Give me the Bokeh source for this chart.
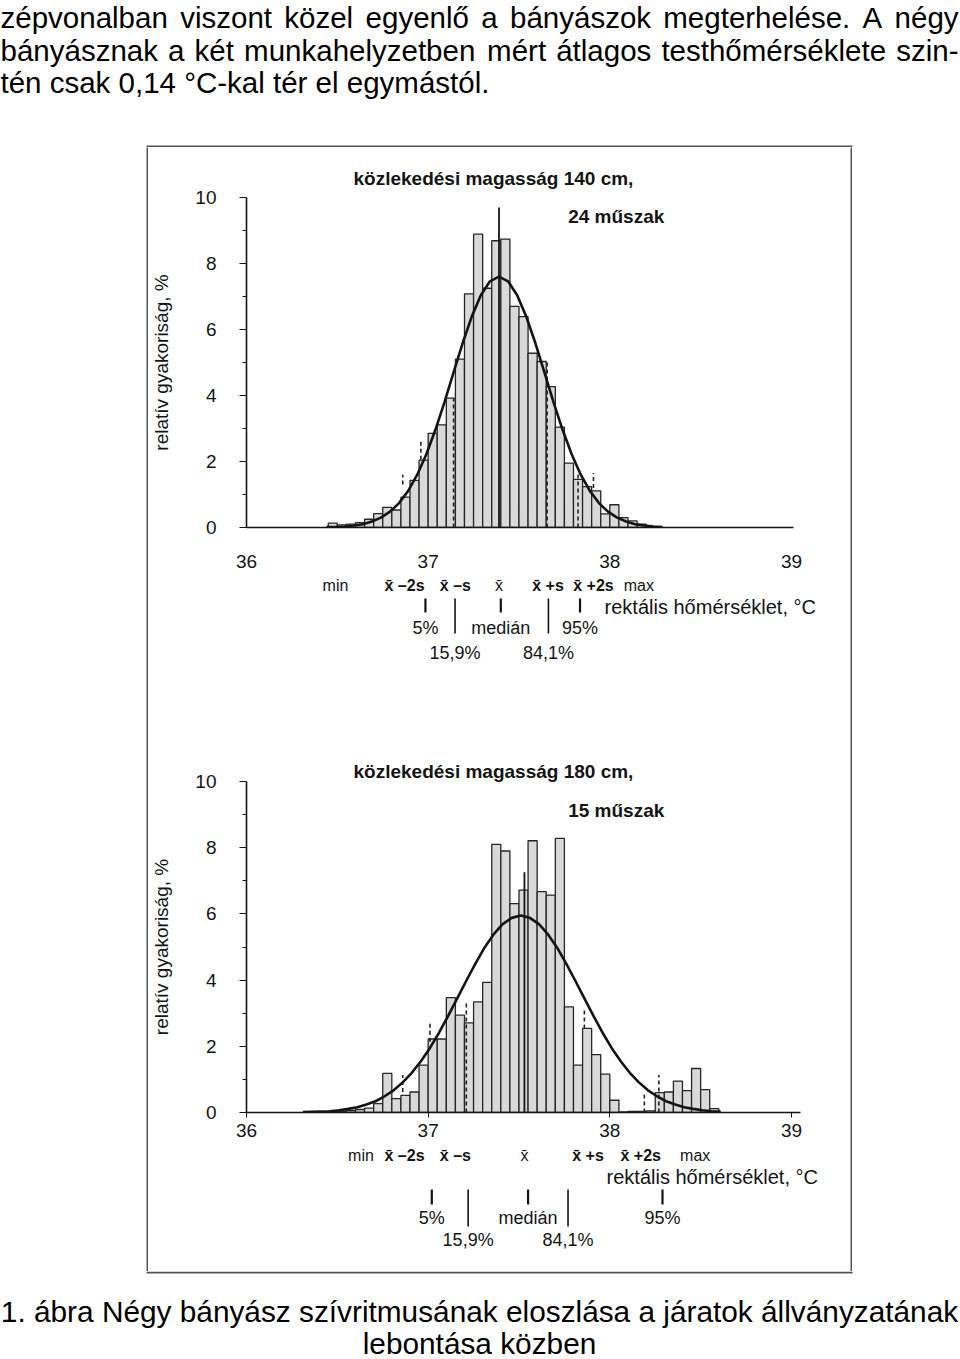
from bokeh.plotting import figure
from bokeh.layouts import column, row
from bokeh.models import Range1d, FixedTicker, Spacer
from bokeh.embed import file_html
from bokeh.resources import INLINE
from bokeh.core.properties import value

FONT = "Liberation Sans"
INK = "#141414"

# ------------------------------------------------------------------ data
x_ticks = [36, 37, 38, 39]
y_ticks = [0, 2, 4, 6, 8, 10]
y_minor = [1, 3, 5, 7, 9]
BIN_W = 0.05

# upper chart: 140 cm, 24 shifts
top_bin_start = [36.45, 36.50, 36.55, 36.60, 36.65, 36.70, 36.75, 36.80, 36.85, 36.90,
                 36.95, 37.00, 37.05, 37.10, 37.15, 37.20, 37.25, 37.30, 37.35, 37.40,
                 37.45, 37.50, 37.55, 37.60, 37.65, 37.70, 37.75, 37.80, 37.85, 37.90,
                 37.95, 38.00, 38.05, 38.10, 38.15]
top_freq = [0.13, 0.08, 0.10, 0.15, 0.25, 0.42, 0.61, 0.53, 0.92, 1.43,
            2.04, 2.85, 3.11, 3.92, 5.10, 7.08, 8.89, 7.25, 8.69, 8.74,
            6.70, 6.39, 5.28, 5.03, 4.27, 3.04, 1.95, 1.46, 1.24, 1.11,
            0.41, 0.69, 0.30, 0.20, 0.10]
top_curve_t = [36.44, 36.49, 36.54, 36.59, 36.64, 36.69, 36.74, 36.79, 36.84, 36.89,
               36.94, 36.99, 37.04, 37.09, 37.14, 37.19, 37.24, 37.29, 37.34, 37.39,
               37.44, 37.49, 37.54, 37.59, 37.64, 37.69, 37.74, 37.79, 37.84, 37.89,
               37.94, 37.99, 38.04, 38.09, 38.14, 38.19, 38.24, 38.29]
top_curve_v = [0.01, 0.01, 0.03, 0.06, 0.10, 0.18, 0.30, 0.48, 0.74, 1.11,
               1.60, 2.22, 2.96, 3.80, 4.70, 5.59, 6.39, 7.04, 7.46, 7.60,
               7.46, 7.04, 6.39, 5.59, 4.70, 3.80, 2.96, 2.22, 1.60, 1.11,
               0.74, 0.48, 0.30, 0.18, 0.10, 0.06, 0.03, 0.01]
top_mean = 37.39
top_mean_height = 9.7
top_marker_t = [36.86, 36.96, 37.14, 37.655, 37.825, 37.91]
top_marker_lo = [1.30, 2.05, 0.00, 0.00, 0.00, 1.20]
top_marker_hi = [1.60, 2.65, 3.90, 5.00, 1.70, 1.65]
top_stat_t = [36.49, 36.87, 37.15, 37.39, 37.66, 37.91, 38.16]
top_pct_t = [36.985, 37.148, 37.40, 37.662, 37.836]

# lower chart: 180 cm, 15 shifts
bot_bin_start = [36.45, 36.50, 36.55, 36.60, 36.65, 36.70, 36.75, 36.80, 36.85, 36.90,
                 36.95, 37.00, 37.05, 37.10, 37.15, 37.20, 37.25, 37.30, 37.35, 37.40,
                 37.45, 37.50, 37.55, 37.60, 37.65, 37.70, 37.75, 37.80, 37.85, 37.90,
                 37.95, 38.00, 38.05, 38.10, 38.15, 38.20, 38.25, 38.30, 38.35, 38.40,
                 38.45, 38.50, 38.55]
bot_freq = [0.03, 0.04, 0.06, 0.09, 0.13, 0.27, 1.18, 0.42, 0.52, 0.62,
            1.43, 2.22, 2.22, 3.47, 2.94, 2.71, 3.34, 3.93, 8.10, 7.90,
            6.31, 6.72, 8.21, 6.67, 6.57, 8.28, 3.19, 1.43, 2.54, 1.75,
            1.16, 0.37, 0.02, 0.03, 0.03, 0.05, 0.60, 0.62, 0.95, 0.66,
            1.33, 0.69, 0.12]
bot_curve_t = [36.31, 36.36, 36.41, 36.46, 36.51, 36.56, 36.61, 36.66, 36.71, 36.76,
               36.81, 36.86, 36.91, 36.96, 37.01, 37.06, 37.11, 37.16, 37.21, 37.26,
               37.31, 37.36, 37.41, 37.46, 37.51, 37.56, 37.61, 37.66, 37.71, 37.76,
               37.81, 37.86, 37.91, 37.96, 38.01, 38.06, 38.11, 38.16, 38.21, 38.26,
               38.31, 38.36, 38.41, 38.46, 38.51, 38.56, 38.61]
bot_curve_v = [0.01, 0.02, 0.03, 0.04, 0.07, 0.11, 0.16, 0.24, 0.34, 0.49,
               0.67, 0.91, 1.20, 1.55, 1.95, 2.41, 2.92, 3.45, 3.98, 4.50,
               4.98, 5.38, 5.69, 5.88, 5.95, 5.88, 5.69, 5.38, 4.98, 4.50,
               3.98, 3.45, 2.92, 2.41, 1.95, 1.55, 1.20, 0.91, 0.67, 0.49,
               0.34, 0.24, 0.16, 0.11, 0.07, 0.04, 0.03]
bot_mean = 37.53
bot_mean_height = 7.26
bot_marker_t = [36.86, 37.01, 37.21, 37.86, 38.19, 38.27]
bot_marker_lo = [0.62, 2.14, 0.00, 2.54, 0.00, 0.00]
bot_marker_hi = [1.13, 2.76, 3.30, 3.10, 0.62, 1.13]
bot_stat_t = [36.63, 36.87, 37.15, 37.53, 37.88, 38.17, 38.47]
bot_pct_t = [37.02, 37.22, 37.55, 37.77, 38.29]

stat_labels = ["min", "x\u0304 \u20132s", "x\u0304 \u2013s", "x\u0304", "x\u0304 +s", "x\u0304 +2s", "max"]
stat_bold = [False, True, True, False, True, True, False]
pct_labels = ["5%", "15,9%", "medi\u00e1n", "84,1%", "95%"]
pct_long = [False, True, False, True, False]

y_title = "relat\u00edv gyakoris\u00e1g, %"
x_title = "rekt\u00e1lis h\u0151m\u00e9rs\u00e9klet, \u00b0C"

header_lines = [
    ["z\u00e9pvonalban", "viszont", "k\u00f6zel", "egyenl\u0151", "a", "b\u00e1ny\u00e1szok",
     "megterhel\u00e9se.", "A", "n\u00e9gy"],
    ["b\u00e1ny\u00e1sznak", "a", "k\u00e9t", "munkahelyzetben", "m\u00e9rt", "\u00e1tlagos",
     "testh\u0151m\u00e9rs\u00e9klete", "szin-"],
    ["t\u00e9n csak 0,14 \u00b0C-kal t\u00e9r el egym\u00e1st\u00f3l."],
]
header_word_x = [
    [0, 179.7, 283.8, 365.1, 480.7, 509.5, 662.8, 862.1, 894.1],
    [0, 167.5, 194.1, 243.6, 486.6, 555.7, 660.9, 895.7],
    [0],
]
header_mid = [17, 49.5, 82]
caption_lines = ["1. \u00e1bra N\u00e9gy b\u00e1ny\u00e1sz sz\u00edvritmus\u00e1nak eloszl\u00e1sa a j\u00e1ratok \u00e1llv\u00e1nyzat\u00e1nak",
                 "lebont\u00e1sa k\u00f6zben"]
caption_mid = [40, 72]

# ------------------------------------------------------------------ layout constants (page pixels)
PAGE_W = 960
PAGE_H = 1359
HDR_H = 147
BOX_OUT_L = 146
BOX_OUT_R = 852
BOX_TOP = 145
INNER_H = 1124
CAP_H = PAGE_H - HDR_H - INNER_H
PPD = 554.0 / 3.0          # pixels per degree
AX_X = 236                 # x pixel of 36 °C / y axis
BOX_L = 148                # inner left edge of the framed box
INNER_W = 702
ML = AX_X - BOX_L
BORDER = "#555555"


def T(px):
    return 36 + (px - AX_X) / PPD


X_END = T(BOX_L + INNER_W)


def bare(w, h, xr, yr, fill="white", ml=0):
    f = figure(width=w, height=h, x_range=xr, y_range=yr, min_border=0, min_border_left=ml,
               x_axis_type=None, y_axis_type=None, toolbar_location=None,
               output_backend="svg", title=None)
    f.outline_line_color = None
    f.background_fill_color = fill
    f.border_fill_color = fill
    return f


def chart(height, mtop, mbot, title, t_standoff, note, note_y, bins, freq, ct, cv,
          mean, mean_h, mk_t, mk_lo, mk_hi, lab_standoff, tick_out, ax_end):
    p = figure(width=INNER_W, height=height, x_range=Range1d(36, X_END), y_range=Range1d(0, 10),
               min_border_left=ML, min_border_right=0, min_border_top=mtop, min_border_bottom=mbot,
               toolbar_location=None, output_backend="svg", title=title)
    p.outline_line_color = None
    p.grid.visible = False
    p.background_fill_color = "white"
    p.border_fill_color = "white"
    t = p.title
    t.align = "left"
    t.offset = 107
    t.standoff = t_standoff
    t.text_font = FONT
    t.text_font_size = "19px"
    t.text_font_style = "bold"
    t.text_color = INK

    p.quad(left=bins, right=[b + BIN_W for b in bins], bottom=0, top=freq,
           fill_color="#d9d9d9", line_color="#262626", line_width=1.3)
    p.segment(x0=mk_t, y0=mk_lo, x1=mk_t, y1=mk_hi, line_color="#222222",
              line_width=1.6, line_dash="4 3")
    p.segment(x0=[mean], y0=[0], x1=[mean], y1=[mean_h], line_color=INK, line_width=1.8)
    p.line(ct, cv, line_color=INK, line_width=2.6)
    p.text(x=[T(563)], y=[note_y], text=[note], text_font=value(FONT), text_font_size="19px",
           text_font_style="bold", text_baseline="middle", text_align="left", text_color=INK)

    xa = p.xaxis[0]
    xa.bounds = (36, ax_end)
    xa.ticker = FixedTicker(ticks=x_ticks)
    xa.major_tick_out = tick_out
    xa.major_tick_in = 0
    xa.minor_tick_out = 0
    xa.minor_tick_in = 0
    xa.major_label_standoff = lab_standoff
    xa.major_label_text_font = FONT
    xa.major_label_text_font_size = "19px"
    xa.major_label_text_color = INK
    xa.axis_line_width = 1.6
    xa.axis_line_color = INK
    xa.major_tick_line_color = INK

    ya = p.yaxis[0]
    ya.ticker = FixedTicker(ticks=y_ticks, minor_ticks=y_minor)
    ya.major_tick_out = 7
    ya.major_tick_in = 0
    ya.minor_tick_out = 4
    ya.minor_tick_in = 0
    ya.major_label_standoff = 23
    ya.major_label_text_font = FONT
    ya.major_label_text_font_size = "19px"
    ya.major_label_text_color = INK
    ya.axis_line_width = 1.6
    ya.axis_line_color = INK
    ya.major_tick_line_color = INK
    ya.minor_tick_line_color = INK
    ya.axis_label = y_title
    ya.axis_label_standoff = 20
    ya.axis_label_text_font = FONT
    ya.axis_label_text_font_size = "19px"
    ya.axis_label_text_font_style = "normal"
    ya.axis_label_text_color = INK
    return p


def label_fig(top_px, height, stat_t, row1_y, rekt_px, rekt_y, pct_t, tick_y0, small_y1,
              big_y1, row2_y, row3_y):
    f = bare(INNER_W, height, Range1d(36, X_END), Range1d(top_px + height, top_px), ml=ML)
    for bold in (False, True):
        xs = [x for x, b in zip(stat_t, stat_bold) if b == bold]
        ts = [s for s, b in zip(stat_labels, stat_bold) if b == bold]
        f.text(x=xs, y=[row1_y] * len(xs), text=ts, text_font=value(FONT), text_font_size="16px",
               text_font_style="bold" if bold else "normal", text_align="center",
               text_baseline="middle", text_color=INK)
    f.text(x=[T(rekt_px)], y=[rekt_y], text=[x_title], text_font=value(FONT), text_font_size="20px",
           text_align="left", text_baseline="middle", text_color=INK)
    sx = [x for x, l in zip(pct_t, pct_long) if not l]
    lx = [x for x, l in zip(pct_t, pct_long) if l]
    f.segment(x0=sx, y0=[tick_y0] * len(sx), x1=sx, y1=[small_y1] * len(sx),
              line_color=INK, line_width=2.2)
    f.segment(x0=lx, y0=[tick_y0] * len(lx), x1=lx, y1=[big_y1] * len(lx),
              line_color=INK, line_width=1.6)
    r2x = [x for x, l in zip(pct_t, pct_long) if not l]
    r2t = [s for s, l in zip(pct_labels, pct_long) if not l]
    r3x = [x for x, l in zip(pct_t, pct_long) if l]
    r3t = [s for s, l in zip(pct_labels, pct_long) if l]
    f.text(x=r2x, y=[row2_y] * len(r2x), text=r2t, text_font=value(FONT), text_font_size="18px",
           text_align="center", text_baseline="middle", text_color=INK)
    f.text(x=r3x, y=[row3_y] * len(r3x), text=r3t, text_font=value(FONT), text_font_size="18px",
           text_align="center", text_baseline="middle", text_color=INK)
    return f


# ------------------------------------------------------------------ build
hdr = bare(PAGE_W, HDR_H, Range1d(0, PAGE_W), Range1d(HDR_H, 0))
for words, xs, ym in zip(header_lines, header_word_x, header_mid):
    hdr.text(x=xs, y=[ym] * len(xs), text=words, text_font=value(FONT), text_font_size="29.5px",
             text_align="left", text_baseline="middle", text_color="#000000")
# top edge of the framed box
hdr.quad(left=[BOX_OUT_L], right=[BOX_OUT_R], top=[BOX_TOP], bottom=[HDR_H],
         fill_color=BORDER, line_color=None)

cap = bare(PAGE_W, CAP_H, Range1d(0, PAGE_W), Range1d(CAP_H, 0))
cap.text(x=[PAGE_W / 2 - 1] * 2, y=caption_mid, text=caption_lines, text_font=value(FONT),
         text_font_size="29.8px", text_align="center", text_baseline="middle", text_color="#000000")
# bottom edge of the framed box
cap.quad(left=[BOX_OUT_L], right=[BOX_OUT_R], top=[0], bottom=[2],
         fill_color=BORDER, line_color=None)

top = chart(425, 50, 45, "k\u00f6zleked\u00e9si magass\u00e1g 140 cm,", 17, "24 m\u0171szak", 9.42,
            top_bin_start, top_freq, top_curve_t, top_curve_v, top_mean, top_mean_height,
            top_marker_t, top_marker_lo, top_marker_hi, 27, 0, 39.01)
top_lab = label_fig(572, 128, top_stat_t, 585, 600, 606, top_pct_t, 598, 612, 633, 627, 652)

bot = chart(442, 81, 30, "k\u00f6zleked\u00e9si magass\u00e1g 180 cm,", 0, "15 m\u0171szak", 9.12,
            bot_bin_start, bot_freq, bot_curve_t, bot_curve_v, bot_mean, bot_mean_height,
            bot_marker_t, bot_marker_lo, bot_marker_hi, 6, 5, 39.05)
bot_lab = label_fig(1142, 129, bot_stat_t, 1155, 602, 1176, bot_pct_t, 1189, 1204, 1226, 1217, 1239)

charts = column(top, top_lab, bot, bot_lab)

vl_l = bare(2, INNER_H, Range1d(0, 1), Range1d(0, 1), fill=BORDER)
vl_r = bare(2, INNER_H, Range1d(0, 1), Range1d(0, 1), fill=BORDER)

page = column(hdr, row(Spacer(width=BOX_OUT_L, height=INNER_H), vl_l, charts, vl_r), cap)

open("out.html", "w").write(file_html(page, INLINE))
